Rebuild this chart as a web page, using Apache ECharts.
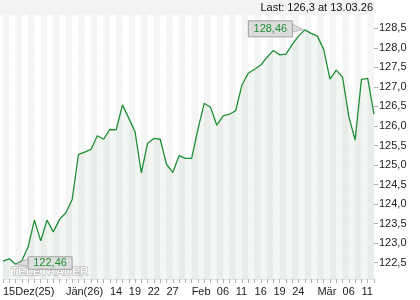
<!DOCTYPE html>
<html>
<head>
<meta charset="utf-8">
<script src="https://cdn.jsdelivr.net/npm/echarts@6/dist/echarts.min.js"></script>
<style>
html,body{margin:0;padding:0;background:#fff;}
#c{width:420px;height:300px;}
</style>
</head>
<body>
<div id="c"></div>
<script>
// Trading days (Dec 15, 2025 – Mar 13, 2026)
var dates = [
 '2025-12-15','2025-12-16','2025-12-17','2025-12-18','2025-12-19','2025-12-22','2025-12-23','2025-12-29','2025-12-30','2026-01-02',
 '2026-01-05','2026-01-06','2026-01-07','2026-01-08','2026-01-09','2026-01-12','2026-01-13','2026-01-14','2026-01-15','2026-01-16',
 '2026-01-19','2026-01-20','2026-01-21','2026-01-22','2026-01-23','2026-01-26','2026-01-27','2026-01-28','2026-01-29','2026-01-30',
 '2026-02-02','2026-02-03','2026-02-04','2026-02-05','2026-02-06','2026-02-09','2026-02-10','2026-02-11','2026-02-12','2026-02-13',
 '2026-02-16','2026-02-17','2026-02-18','2026-02-19','2026-02-20','2026-02-23','2026-02-24','2026-02-25','2026-02-26','2026-02-27',
 '2026-03-02','2026-03-03','2026-03-04','2026-03-05','2026-03-06','2026-03-09','2026-03-10','2026-03-11','2026-03-12','2026-03-13'
];
var prices = [
 122.54,122.60,122.46,122.55,122.91,123.59,123.06,123.59,123.29,123.61,
 123.78,124.12,125.27,125.33,125.40,125.75,125.66,125.91,125.90,126.54,
 126.20,125.85,124.80,125.56,125.68,125.66,125.02,124.81,125.24,125.17,
 125.17,125.92,126.58,126.48,126.02,126.26,126.30,126.39,127.05,127.35,
 127.45,127.56,127.76,127.93,127.82,127.84,128.09,128.30,128.46,128.37,
 128.30,127.96,127.20,127.43,127.25,126.24,125.64,127.19,127.22,126.30
];
// x tick labels keyed by category index
var xLabelIdx  = [0, 10, 17, 20, 23, 26, 30, 34, 37, 40, 43, 46, 50, 54, 57];
var xLabelText = ['15Dez(25)','Jän(26)','14','19','22','27','Feb','06','11','16','19','24','Mär','06','11'];
var yMin = 122.083, yMax = 128.84;
var lastText = 'Last: 126,3 at 13.03.26';
var maxText = '128,46', minText = '122,46';

var labelMap = {};
xLabelIdx.forEach(function(i,k){ labelMap[i] = xLabelText[k]; });

var FONT = '"Liberation Sans", Arial, sans-serif';
var chart = echarts.init(document.getElementById('c'), null, {renderer:'canvas'});
chart.setOption({
  animation: false,
  backgroundColor: '#ffffff',
  grid: {left: 3, right: 46, top: 15, bottom: 21, containLabel: false},
  xAxis: {
    type: 'category', data: dates, boundaryGap: false,
    axisLine: {show: true, lineStyle: {color: '#e6e6e6'}},
    axisTick: {show: true, interval: 0, length: 4, lineStyle: {color: '#b0b0b0'}},
    axisLabel: {
      show: true, interval: 0, align: 'left', margin: 7, hideOverlap: false,
      color: '#222', fontSize: 11, fontFamily: FONT,
      formatter: function(v, i){ return labelMap[i] || ''; }
    },
    splitLine: {show: false},
    splitArea: {show: true, interval: 0, areaStyle: {color: ['#f5f5f5', '#ffffff']}}
  },
  yAxis: {
    type: 'value', position: 'right', min: yMin, max: yMax,
    splitNumber: 13, minInterval: 0.5, maxInterval: 0.5,
    axisLine: {show: false},
    axisTick: {show: true, length: 4, lineStyle: {color: '#b0b0b0'}},
    axisLabel: {
      color: '#222', fontSize: 11, fontFamily: FONT, margin: 5,
      showMinLabel: false, showMaxLabel: false,
      formatter: function(v){
        if (Math.abs(v*2 - Math.round(v*2)) > 1e-6) return '';
        return v.toFixed(1).replace('.', ',');
      }
    },
    splitLine: {show: true, lineStyle: {color: '#e2e2e2', width: 1}}
  },
  series: [{
    type: 'line', data: prices, symbol: 'none', smooth: false,
    lineStyle: {color: '#1f8f35', width: 1.3},
    areaStyle: {color: 'rgba(60,130,60,0.09)'},
    z: 3
  }]
});

// annotations placed from the series' own scale
var iMax = prices.indexOf(Math.max.apply(null, prices));
var iMin = prices.indexOf(Math.min.apply(null, prices));
var pMax = chart.convertToPixel({seriesIndex: 0}, [iMax, prices[iMax]]);
var pMin = chart.convertToPixel({seriesIndex: 0}, [iMin, prices[iMin]]);
var gridRect = chart.getModel().getComponent('grid').coordinateSystem.getRect();

chart.setOption({
  graphic: [
    {type: 'rect', z: -10, silent: true, shape: {x: 0, y: 0, width: gridRect.x + gridRect.width, height: gridRect.y}, style: {fill: '#f3f3f3'}},
    {type: 'text', z: 10, style: {text: lastText, x: gridRect.x + gridRect.width - 1, y: 8, align: 'right', verticalAlign: 'middle', fill: '#111', font: '11px ' + FONT}},
    // watermark
    {type: 'text', z: 5, style: {text: 'TELETRADER', x: 11, y: gridRect.y + gridRect.height - 7.5, verticalAlign: 'middle', fill: 'rgba(255,255,255,0.85)', stroke: '#a8a8a8', lineWidth: 0.9, font: 'bold 11.5px ' + FONT}},
    // max label
    {type: 'polygon', z: 20, shape: {points: [[pMax[0]-13, pMax[1]-6], [pMax[0]-13, pMax[1]+2], [pMax[0]-1, pMax[1]]]}, style: {fill: '#dcdcdc', stroke: '#b0b0b0', lineWidth: 0.8}},
    {type: 'rect', z: 21, shape: {x: pMax[0]-56.5, y: pMax[1]-9, width: 44, height: 16}, style: {fill: '#dcdcdc', stroke: '#a0a0a0', lineWidth: 1}},
    {type: 'text', z: 22, style: {text: maxText, x: pMax[0]-34.5, y: pMax[1]-1, align: 'center', verticalAlign: 'middle', fill: '#1f8f35', font: '11px ' + FONT}},
    // min label
    {type: 'polygon', z: 20, shape: {points: [[pMin[0]+13, pMin[1]-6], [pMin[0]+13, pMin[1]+2], [pMin[0]+1, pMin[1]]]}, style: {fill: '#dcdcdc', stroke: '#b0b0b0', lineWidth: 0.8}},
    {type: 'rect', z: 21, shape: {x: pMin[0]+12.5, y: pMin[1]-7.5, width: 44, height: 12.5}, style: {fill: 'rgba(220,220,220,0.85)', stroke: '#a0a0a0', lineWidth: 1}},
    {type: 'text', z: 22, style: {text: minText, x: pMin[0]+34.5, y: pMin[1]-1, align: 'center', verticalAlign: 'middle', fill: '#1f8f35', font: '11px ' + FONT}}
  ]
});
</script>
</body>
</html>
